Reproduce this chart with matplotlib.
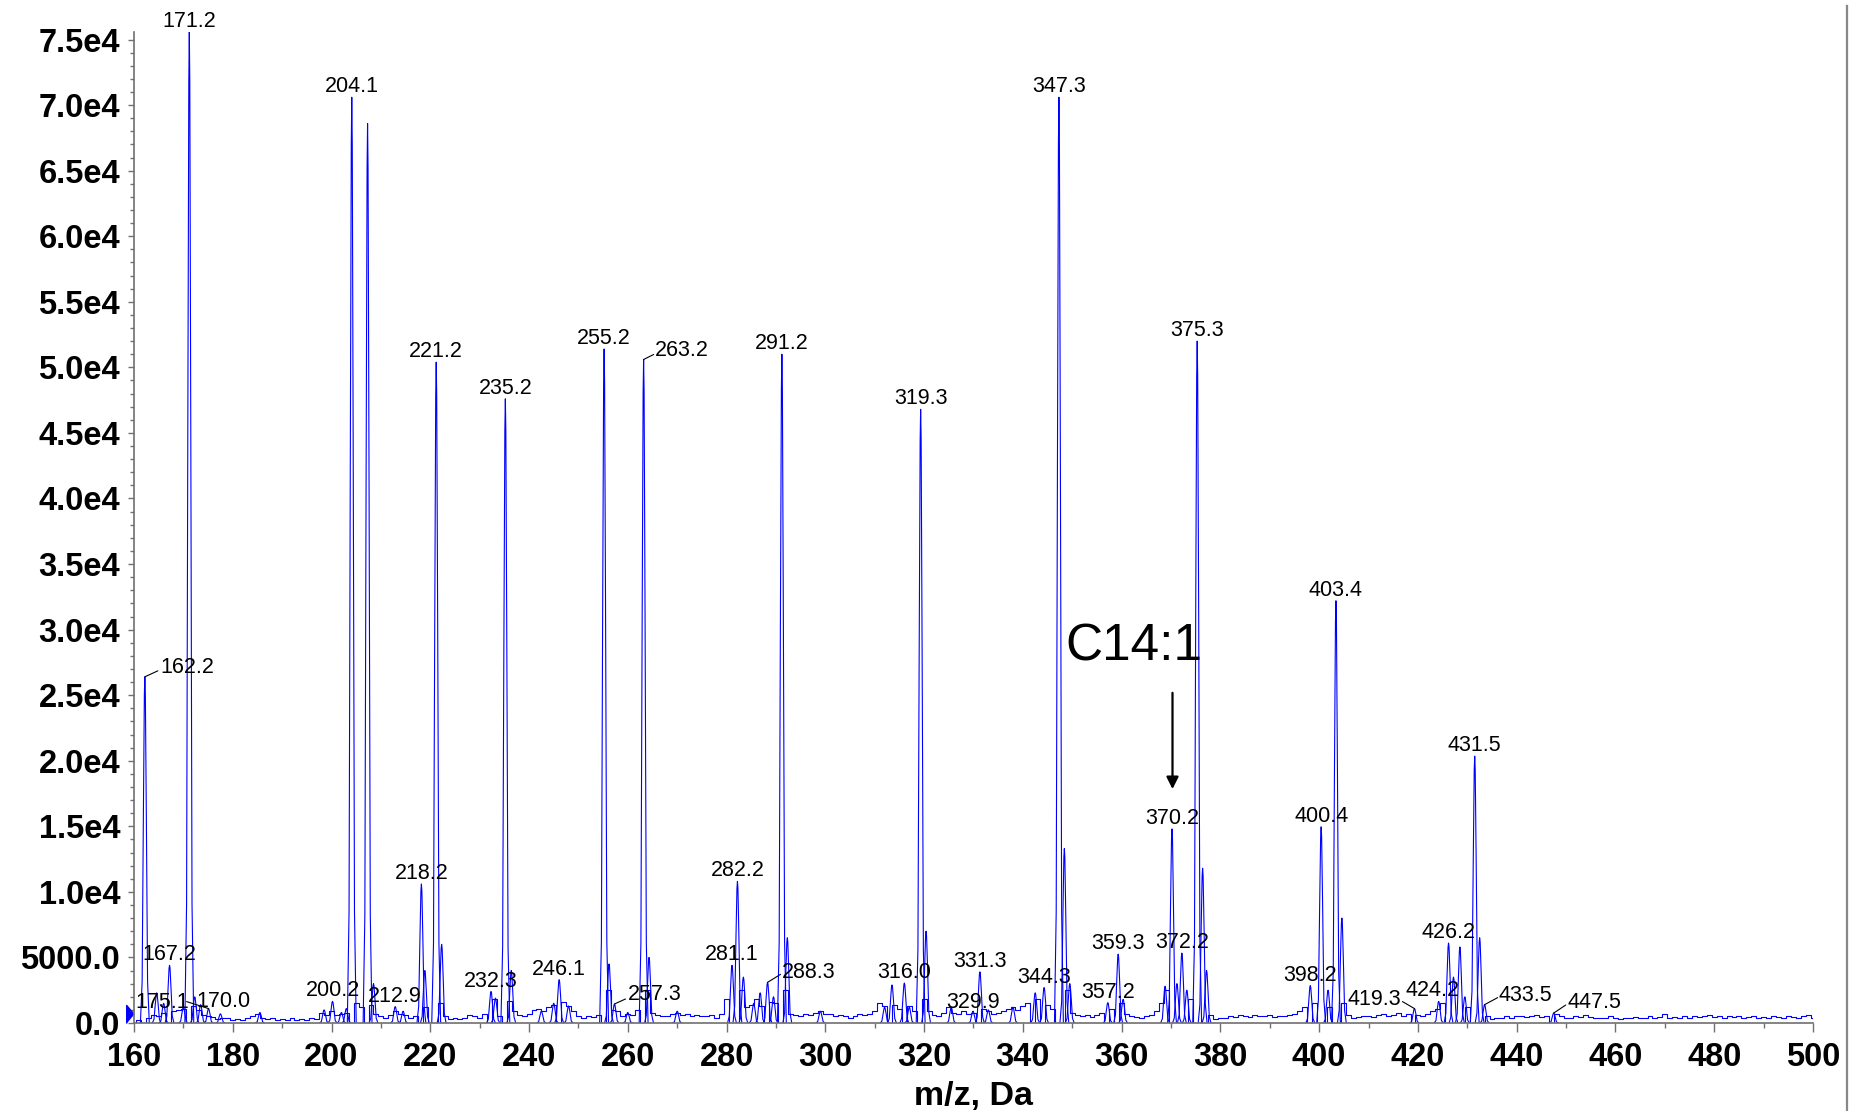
import numpy as np
import matplotlib
matplotlib.use('Agg')
import matplotlib.pyplot as plt
from matplotlib.lines import Line2D

plt.rcParams['font.family'] = ['Liberation Sans', 'DejaVu Sans']

# peak list (m/z, counts)
peak_mz = [162.2, 164.6, 166.0, 167.2, 170.0, 171.2, 172.3, 173.5, 175.1, 177.5,
           185.5, 198.5, 200.2, 202.0, 203.0, 204.1, 207.3, 208.5, 212.9, 214.5,
           218.2, 218.9, 221.2, 222.3, 232.3, 233.2, 235.2, 236.4, 242.5, 245.0,
           246.1, 248.0, 255.2, 256.2, 257.3, 260.0, 263.2, 264.3, 270.0, 281.1,
           282.2, 283.4, 285.5, 286.8, 288.3, 289.5, 291.2, 292.3, 299.0, 312.0,
           313.5, 316.0, 317.0, 319.3, 320.4, 325.5, 329.9, 331.3, 333.0, 338.0,
           342.5, 344.3, 347.3, 348.4, 349.5, 357.2, 359.3, 360.3, 368.8, 370.2,
           371.2, 372.2, 373.2, 375.3, 376.4, 377.2, 398.2, 400.4, 401.8, 403.4,
           404.6, 419.3, 424.2, 426.2, 427.2, 428.5, 429.5, 431.5, 432.5, 433.5,
           447.5]
peak_int = [26400, 2300, 1500, 4400, 1200, 75600, 2000, 1400, 1100, 700,
            800, 1000, 1650, 800, 1100, 70600, 68600, 3000, 1250, 900,
            10600, 4000, 50400, 6000, 2400, 1900, 47600, 4000, 900, 1500,
            3300, 1300, 51400, 4500, 1450, 800, 50600, 5000, 900, 4400,
            10800, 3500, 1500, 2300, 3100, 2000, 51000, 6500, 900, 1200,
            2900, 3050, 1200, 46800, 7000, 1200, 900, 3900, 1000, 1200,
            2300, 2700, 70600, 13300, 3000, 1550, 5250, 1800, 2800, 14800,
            3000, 5330, 2500, 52000, 11800, 4000, 2850, 14960, 2500, 32200,
            8000, 1100, 1650, 6100, 3500, 5800, 2000, 20350, 6500, 1400,
            760]

# low level background, one value per Da from 160 to 500
noise = [0, 200, 0, 400, 600, 500, 800, 0, 900, 1000,
         1100, 0, 1300, 1000, 600, 500, 450, 300, 400, 350,
         250, 300, 200, 350, 500, 700, 400, 300, 350, 250,
         300, 250, 350, 200, 300, 250, 350, 300, 800, 600,
         900, 600, 700, 800, 0, 1500, 1200, 0, 1400, 700,
         500, 400, 600, 900, 700, 600, 400, 500, 0, 1200,
         0, 0, 1500, 500, 300, 350, 300, 400, 600, 500,
         400, 700, 0, 1800, 500, 0, 1700, 900, 600, 500,
         700, 1000, 1100, 900, 1200, 1400, 0, 1600, 1300, 900,
         500, 400, 500, 450, 600, 0, 2500, 1000, 900, 500,
         700, 600, 1000, 0, 2500, 800, 600, 500, 550, 700,
         800, 600, 700, 500, 600, 550, 500, 600, 400, 700,
         1800, 0, 0, 2500, 1200, 1400, 1800, 1300, 0, 1600,
         1500, 0, 2500, 700, 600, 550, 650, 600, 800, 900,
         700, 650, 500, 600, 550, 400, 500, 650, 600, 700,
         900, 1500, 1300, 0, 1400, 1100, 0, 1300, 900, 0,
         1800, 900, 600, 500, 800, 1200, 800, 700, 900, 700,
         800, 0, 1100, 900, 700, 800, 900, 1100, 1200, 1000,
         1300, 1500, 0, 1800, 0, 1400, 1100, 0, 0, 2500,
         800, 600, 500, 600, 450, 600, 800, 0, 1100, 0,
         1500, 700, 500, 450, 400, 500, 600, 900, 1500, 2500,
         0, 0, 0, 0, 1800, 0, 0, 0, 600, 300,
         350, 400, 500, 450, 600, 550, 450, 600, 550, 500,
         600, 450, 500, 550, 600, 700, 900, 1200, 0, 1500,
         0, 0, 1200, 0, 0, 1500, 600, 400, 450, 500,
         550, 450, 600, 700, 500, 600, 800, 500, 700, 0,
         600, 500, 700, 900, 1100, 1500, 0, 0, 0, 0,
         1200, 0, 0, 0, 500, 300, 400, 350, 500, 400,
         550, 500, 450, 500, 600, 450, 500, 0, 700, 500,
         400, 350, 550, 450, 600, 450, 400, 350, 400, 500,
         350, 300, 400, 350, 450, 400, 350, 500, 400, 450,
         650, 400, 450, 350, 500, 400, 550, 450, 500, 600,
         450, 500, 400, 550, 450, 500, 400, 450, 500, 400,
         450, 400, 500, 450, 400, 500, 450, 400, 550, 600,
         400]

labels = ['162.2', '167.2', '170.0', '171.2', '175.1', '200.2', '204.1', '212.9',
          '218.2', '221.2', '232.3', '235.2', '246.1', '255.2', '257.3', '263.2',
          '281.1', '282.2', '288.3', '291.2', '316.0', '319.3', '329.9', '331.3',
          '344.3', '347.3', '357.2', '359.3', '370.2', '372.2', '375.3', '398.2',
          '400.4', '403.4', '419.3', '424.2', '426.2', '431.5', '433.5', '447.5']

# label placement: (dx px, dy px, ha, leader end dx, leader end dy)
label_layout = {
    '162.2': (16, 4, 'left', 13, 6),
    '170.0': (13, 0, 'left', None, None),
    '175.1': (-20, 1, 'right', -22, 7),
    '257.3': (13, 4, 'left', 11, 5),
    '263.2': (11, 3, 'left', 10, 5),
    '288.3': (14, 4, 'left', 13, 8),
    '419.3': (-13, 4, 'right', -12, 7),
    '433.5': (14, 4, 'left', 13, 7),
    '447.5': (14, 5, 'left', 12, 8),
    '329.9': (0, 3, 'center', None, None),
    '424.2': (-6, 5, 'center', None, None),
}

# peak outline, relative to apex (Da, fraction of height)
shape_dx = [-0.9, -0.55, -0.3, -0.1, 0.0, 0.1, 0.3, 0.55, 0.9]
shape_h = [0.0, 0.12, 0.6, 0.95, 1.0, 0.95, 0.6, 0.12, 0.0]

blue = '#0000ff'
fig = plt.figure(figsize=(18.61, 11.11), dpi=100)
ax = fig.add_axes([0.0720, 0.0792, 0.9022, 0.8923])

mz_grid = np.arange(160, 501)
ax.plot(mz_grid, noise, color=blue, lw=0.8, drawstyle='steps-mid')
for mz, h in zip(peak_mz, peak_int):
    ax.plot(mz + np.array(shape_dx), h * np.array(shape_h), color=blue, lw=0.8)

for lab in labels:
    i = peak_mz.index(float(lab))
    x, y = peak_mz[i], peak_int[i]
    dx, dy, ha, lx, ly = label_layout.get(lab, (0, 5, 'center', None, None))
    ax.annotate(lab, (x, y), xytext=(dx, dy), textcoords='offset pixels',
                ha=ha, va='baseline', fontsize=15.5, color='black')
    if lx is not None:
        ax.annotate('', (x, y), xytext=(lx, ly), textcoords='offset pixels',
                    arrowprops=dict(arrowstyle='-', color='black', lw=0.8,
                                    shrinkA=0, shrinkB=0))

ax.text(348.7, 27670, 'C14:1', fontsize=37, ha='left', va='baseline')
ax.annotate('', xy=(370.3, 17840), xytext=(370.3, 25180),
            arrowprops=dict(arrowstyle='-|>', color='black', lw=1.6,
                            mutation_scale=18, shrinkA=0, shrinkB=0))

# little blue marker at the origin of the intensity axis
ax.plot([-0.0022], [690], marker=[(-0.42, -1), (-0.42, 1), (0.42, 0)],
        markersize=13, color=blue, transform=ax.get_yaxis_transform(),
        clip_on=False)

ax.set_xlim(160, 500)
ax.set_ylim(0, 75600)
ax.set_xticks(np.arange(160, 501, 20))
ax.set_xticks(np.arange(170, 500, 20), minor=True)
yt = np.arange(0, 75001, 5000)
ylabels = ['0.0', '5000.0'] + [f'{v / 1e4:.1f}e4' for v in yt[2:]]
ax.set_yticks(yt)
ax.set_yticklabels(ylabels)
ax.set_yticks(np.arange(0, 75600, 1000), minor=True)
for t in ax.get_xticklabels() + ax.get_yticklabels():
    t.set_fontweight('bold')
    t.set_fontsize(23.5)
ax.tick_params(axis='x', which='major', length=6.5, width=1, color='#707070', pad=7)
ax.tick_params(axis='x', which='minor', length=3.6, width=1, color='#707070')
ax.tick_params(axis='y', which='major', length=4, width=1, color='#707070', pad=6)
ax.tick_params(axis='y', which='minor', length=3, width=1, color='#707070')
for s in ['top', 'right']:
    ax.spines[s].set_visible(False)
for s in ['left', 'bottom']:
    ax.spines[s].set_color('#707070')
    ax.spines[s].set_linewidth(1.2)
ax.set_xlabel('m/z, Da', fontsize=24.5, fontweight='bold', labelpad=6)

fig.add_artist(Line2D([1847 / 1861] * 2, [0, 0.995], transform=fig.transFigure,
                      color='#888888', lw=1.6))

fig.savefig('out.png', dpi=100)
